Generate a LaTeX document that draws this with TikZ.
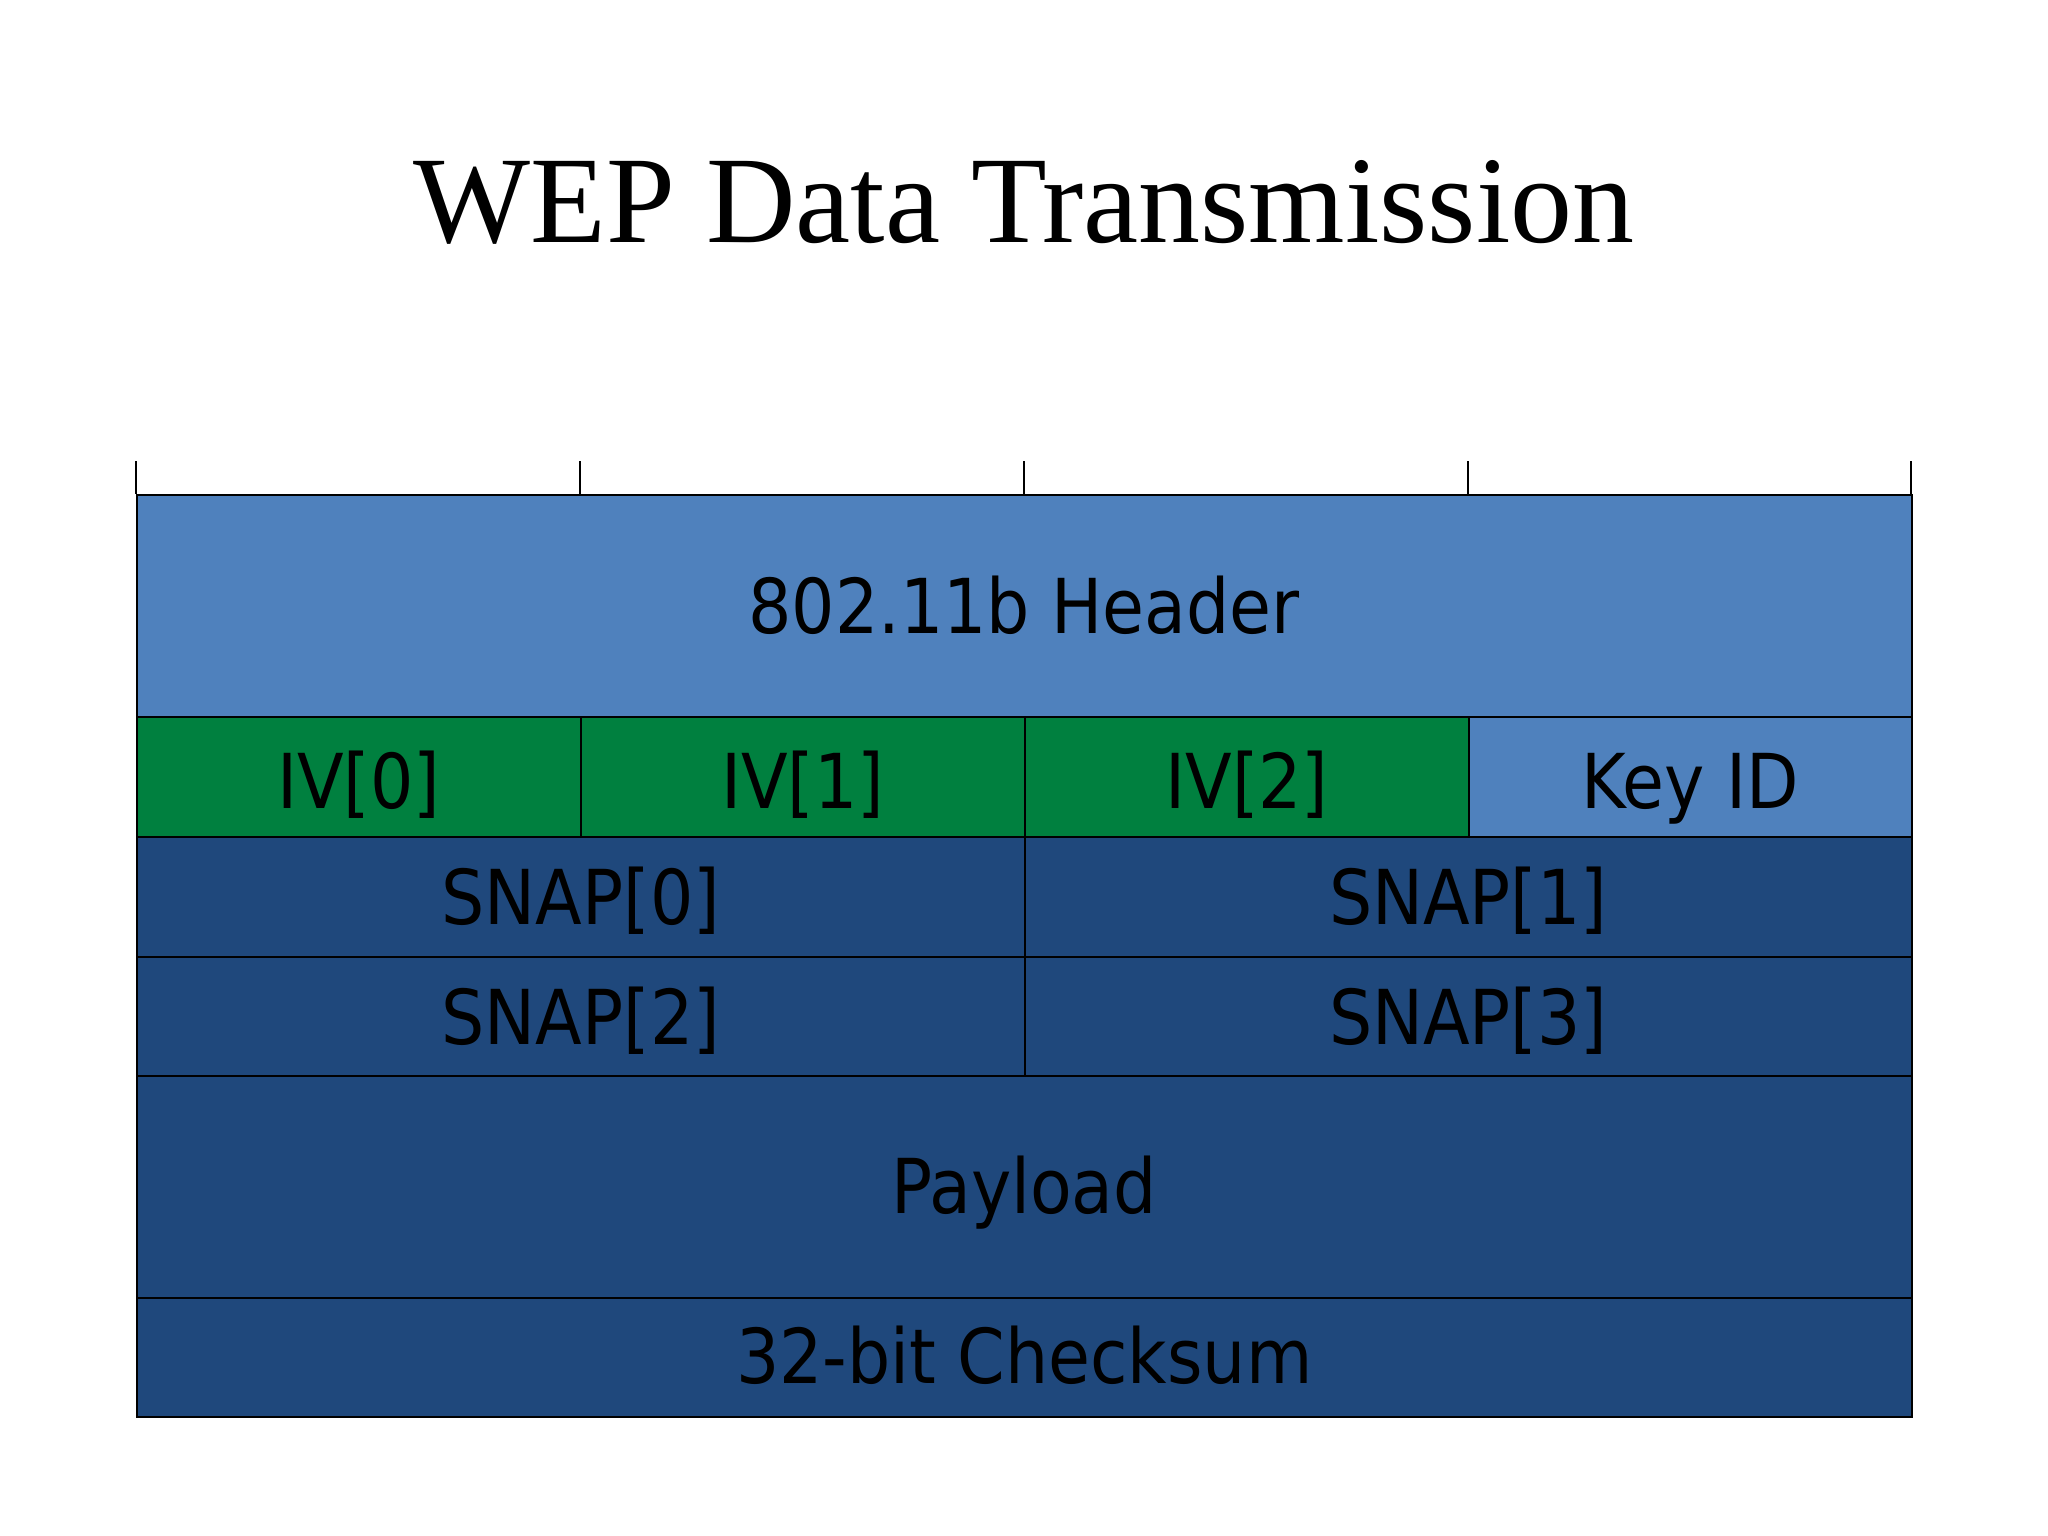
\documentclass[tikz,border=0pt]{standalone}
\usepackage{fontspec}
\setmainfont{DejaVu Sans Condensed}
\newfontfamily\titlefont{Liberation Serif}
\definecolor{hdrblue}{HTML}{4F81BD}
\definecolor{ivgreen}{HTML}{00803F}
\definecolor{darkblue}{HTML}{1F487C}
\begin{document}
\begin{tikzpicture}[x=0.02cm,y=-0.02cm,
  cell/.style={draw=black, line width=0.8pt, inner sep=0pt, anchor=north west, font=\fontsize{33}{36}\selectfont, text=black},
  base/.style={text height=#1*0.04cm, text depth=0pt},
  tick/.style={draw=black, line width=0.8pt}]
\useasboundingbox[fill=white] (0,0) rectangle (1568,1176);
\node[font=\titlefont\fontsize{54}{60}\selectfont] (title) at (784,155) {WEP Data Transmission};
% header
\node[cell, base=21.5, fill=hdrblue, minimum width=1359*0.02cm, minimum height=170*0.02cm] (hdr) at (104,378) {802.11b Header};
% IV row
\node[cell, base=24, fill=ivgreen, minimum width=340*0.02cm, minimum height=92*0.02cm] (iv0) at (104,548) {IV[0]};
\node[cell, base=24, fill=ivgreen, minimum width=340*0.02cm, minimum height=92*0.02cm] (iv1) at (444,548) {IV[1]};
\node[cell, base=24, fill=ivgreen, minimum width=340*0.02cm, minimum height=92*0.02cm] (iv2) at (784,548) {IV[2]};
\node[cell, base=24, fill=hdrblue, minimum width=339*0.02cm, minimum height=92*0.02cm] (kid) at (1124,548) {Key ID};
% SNAP rows
\node[cell, base=21.5, fill=darkblue, minimum width=680*0.02cm, minimum height=92*0.02cm] (s0) at (104,640) {SNAP[0]};
\node[cell, base=21.5, fill=darkblue, minimum width=679*0.02cm, minimum height=92*0.02cm] (s1) at (784,640) {SNAP[1]};
\node[cell, base=21.5, fill=darkblue, minimum width=680*0.02cm, minimum height=91*0.02cm] (s2) at (104,732) {SNAP[2]};
\node[cell, base=21.5, fill=darkblue, minimum width=679*0.02cm, minimum height=91*0.02cm] (s3) at (784,732) {SNAP[3]};
% payload and checksum
\node[cell, base=20, fill=darkblue, minimum width=1359*0.02cm, minimum height=170*0.02cm] (pay) at (104,823) {Payload};
\node[cell, base=20, fill=darkblue, minimum width=1359*0.02cm, minimum height=91*0.02cm] (chk) at (104,993) {32-bit Checksum};
% ticks
\coordinate (t0) at (104,353);
\coordinate (t1) at (444,353);
\coordinate (t2) at (784,353);
\coordinate (t3) at (1124,353);
\coordinate (t4) at (1463,353);
\draw[tick] (t0) -- (t0 |- hdr.north);
\draw[tick] (t1) -- (t1 |- hdr.north);
\draw[tick] (t2) -- (t2 |- hdr.north);
\draw[tick] (t3) -- (t3 |- hdr.north);
\draw[tick] (t4) -- (t4 |- hdr.north);
\end{tikzpicture}
\end{document}
